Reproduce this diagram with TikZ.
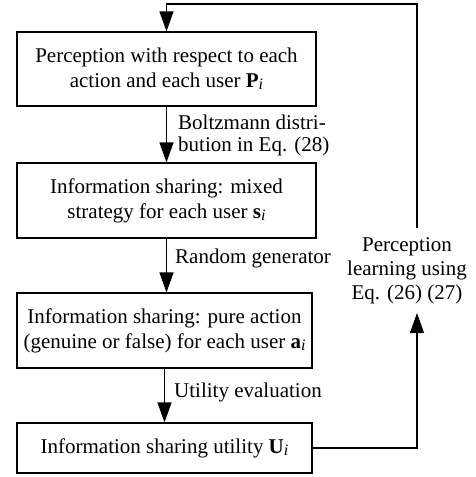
\documentclass[tikz,border=0pt]{standalone}
\usepackage{fontspec}
\setmainfont{Liberation Serif}
\usetikzlibrary{arrows.meta}
\newcommand{\vsub}[2]{\textbf{#1}\raisebox{-0.25ex}{\fontsize{16}{16}\selectfont\itshape #2}}
\tikzset{
  blk/.style={draw, line width=1.2pt, align=center, inner sep=0pt,
    font=\fontsize{21}{25}\selectfont},
  lbl/.style={inner sep=0pt, align=left, font=\fontsize{21}{22}\selectfont},
  arr/.style={line width=1.2pt, -{Triangle[length=20pt,width=14pt]}}
}
\begin{document}
\begin{tikzpicture}[x=1pt, y=-1pt]
  \useasboundingbox (0,0) rectangle (476,477);
  % cajas del flujo
  \node[blk, minimum width=299pt, minimum height=74pt] (perc) at (166.5,69)
    {Perception with respect to each\\action and each user \vsub{P}{i}};
  \node[blk, minimum width=299pt, minimum height=75pt] (mix) at (166.5,200.5)
    {Information sharing: mixed\\strategy for each user \vsub{s}{i}};
  \node[blk, minimum width=295pt, minimum height=75pt] (pure) at (164.5,330.5)
    {Information sharing: pure action\\(genuine or false) for each user \vsub{a}{i}};
  \node[blk, minimum width=295pt, minimum height=50pt] (util) at (164.5,448)
    {Information sharing utility \vsub{U}{i}};
  % flechas hacia abajo
  \draw[arr] (perc.south) -- (mix.north);
  \draw[arr] (mix.south) -- (mix.south |- pure.north);
  \draw[arr] (pure.south) -- (util.north);
  \node[lbl, anchor=west] (boltz) at (178,135) {Boltzmann distri-\\bution in Eq. (28)};
  \node[lbl, anchor=west] (rand) at (175,258) {Random generator};
  \node[lbl, anchor=west] (eval) at (174,392) {Utility evaluation};
  % lazo de aprendizaje
  \node[lbl, align=center, font=\fontsize{21}{24}\selectfont] (learn) at (407,271)
    {Perception\\learning using\\Eq. (26) (27)};
  \coordinate (up) at (417,313);
  \coordinate (dn) at (417,228);
  \coordinate (tp) at (417,4);
  \draw[arr] (util.east) -| (up);
  \draw[arr] (dn) -- (tp) -| (perc.north);
\end{tikzpicture}
\end{document}
